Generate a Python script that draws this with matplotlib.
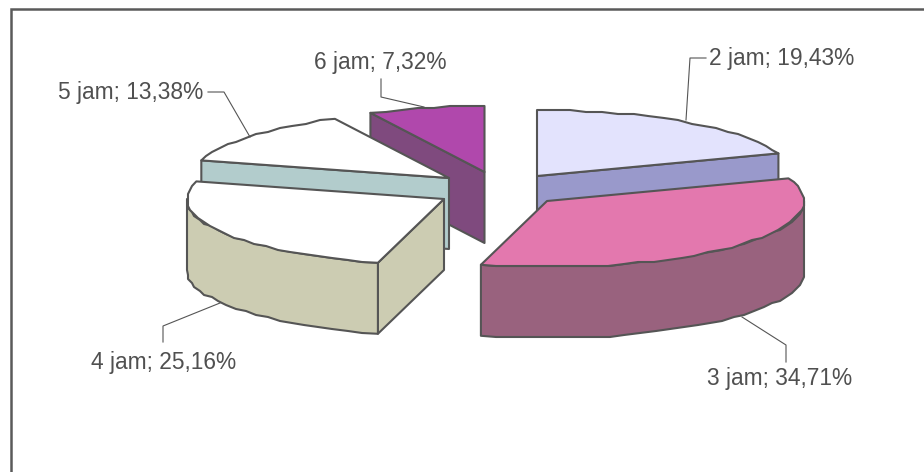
import numpy as np
import matplotlib
matplotlib.use('Agg')
import matplotlib.pyplot as plt
from matplotlib.patches import Polygon

plt.rcParams['font.family'] = ['Liberation Sans', 'DejaVu Sans']

hours = ['2 jam', '3 jam', '4 jam', '5 jam', '6 jam']
shares = [19.43, 34.71, 25.16, 13.38, 7.32]

top_colors = ['#e3e3fd', '#e378ae', '#ffffff', '#ffffff', '#b048ac']
side_colors = ['#9999cb', '#99627e', '#ccccb2', '#b2cccc', '#7f4a7e']

# apex of every exploded slice on the canvas
apex_x = [537, 547, 444, 449, 484.5]
apex_y = [176, 201, 199, 178, 172]

RX, RY = 257, 66
DEPTH = 71
EDGE = '#555555'
TEXT = '#505050'

# label text position, then the leader line from the slice to the text
label_xy = [(782, 58), (780, 379), (164, 362), (131, 92), (380, 62)]
leaders = [
    [(686, 120), (690, 58), (706, 58)],
    [(742, 317), (786, 345), (786, 362)],
    [(220, 303), (163, 326), (163, 342)],
    [(250, 137), (224, 92), (208, 92)],
    [(424, 107), (381, 97), (381, 79)],
]


def arc_points(cx, cy, a0, a1):
    # short polyline steps snapped to a grid, the rim outline is slightly jagged
    n = max(int(abs(a1 - a0) / 3.5), 2)
    t = np.radians(np.linspace(a0, a1, n + 1))
    xs = cx + RX * np.cos(t)
    ys = cy - RY * np.sin(t)
    xs[1:-1] = np.round(xs[1:-1] / 2) * 2
    ys[1:-1] = np.round(ys[1:-1] / 2) * 2
    return np.column_stack([xs, ys])


def draw_slice(i, a0, a1):
    cx, cy = apex_x[i], apex_y[i]
    style = dict(edgecolor=EDGE, linewidth=1.5, joinstyle='round')
    rim = arc_points(cx, cy, a0, a1)
    down = np.array([0, DEPTH])

    # radial walls, kept only when they turn towards the viewer
    for end, normal in ((rim[0], a0 + 90), (rim[-1], a1 - 90)):
        if np.sin(np.radians(normal)) < -0.01:
            wall = [(cx, cy), end, end + down, (cx, cy + DEPTH)]
            ax.add_patch(Polygon(wall, facecolor=side_colors[i], **style))

    # outer wall on the part of the rim below the horizontal
    lo, hi = max(a1, -180), min(a0, 0)
    if hi > lo:
        front = arc_points(cx, cy, hi, lo)
        wall = np.vstack([front, (front + down)[::-1]])
        ax.add_patch(Polygon(wall, facecolor=side_colors[i], **style))

    ax.add_patch(Polygon(np.vstack([[(cx, cy)], rim]), facecolor=top_colors[i], **style))


fig = plt.figure(figsize=(9.24, 4.72), dpi=100)
ax = fig.add_axes([0, 0, 1, 1])
ax.set_xlim(0, 924)
ax.set_ylim(472, 0)
ax.axis('off')

# chart area frame, runs off the right and bottom edges
ax.plot([10.5, 10.5, 924], [472, 8.7, 8.7], color='#5a5a5a', lw=1.8,
        solid_joinstyle='miter', solid_capstyle='butt')

# slice angles run clockwise from twelve o'clock
ends = 90 - np.cumsum(shares) * 3.6
starts = np.concatenate([[90], ends[:-1]])
for i in [4, 3, 0, 2, 1]:
    draw_slice(i, starts[i], ends[i])

for hour, share, xy, line in zip(hours, shares, label_xy, leaders):
    xs, ys = zip(*line)
    ax.plot(xs, ys, color='#555555', lw=0.8)
    label = f'{hour}; {share:.2f}%'.replace('.', ',')
    ax.text(xy[0], xy[1], label, ha='center', va='center', fontsize=16.4, color=TEXT)

fig.savefig('out.png', dpi=100)
